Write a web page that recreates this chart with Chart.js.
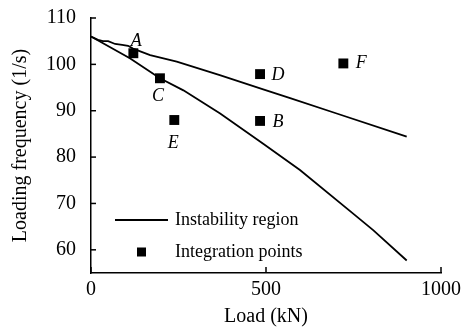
<!DOCTYPE html>
<html>
<head>
<meta charset="utf-8">
<script src="https://cdn.jsdelivr.net/npm/chart.js@4/dist/chart.umd.min.js"></script>
<style>
html, body { margin: 0; padding: 0; background: #fff; }
</style>
</head>
<body>
<canvas id="freqChart" width="461" height="329"></canvas>
<script>
// instability region, upper branch
const upperLoad = [0, 20, 34, 49, 69, 89, 106, 120, 169, 245, 368, 492, 569, 702, 902];
const upperFreq = [106, 105.3, 105.0, 105.0, 104.4, 104.2, 104.0, 103.4, 102.0, 100.6, 97.7, 94.6, 92.7, 89.4, 84.4];
// instability region, lower branch
const lowerLoad = [0, 111, 197, 264, 369, 492, 597, 749, 807, 902];
const lowerFreq = [106, 101.3, 97.0, 94.4, 89.4, 82.9, 77.2, 67.8, 64.2, 57.7];
// integration points
const pointNames = ['A', 'B', 'C', 'D', 'E', 'F'];
const pointLoad = [121, 483, 197, 483, 238, 721];
const pointFreq = [102.4, 87.8, 97.0, 97.9, 88.0, 100.2];

const serif = '"Liberation Serif", "Times New Roman", serif';

// where each letter sits relative to its square
const labelOffset = {
    A: [3, -12], B: [18, 1], C: [-2, 18], D: [18, 1], E: [-1, 23], F: [18, 0]
};

function toXY(xs, ys) {
    return xs.map((v, i) => ({x: v, y: ys[i]}));
}

const innerTicks = {
    id: 'innerTicks',
    afterDraw(chart) {
        const {ctx, chartArea, scales} = chart;
        ctx.save();
        ctx.strokeStyle = '#000';
        ctx.lineWidth = 1.5;
        scales.x.ticks.forEach(t => {
            const px = scales.x.getPixelForValue(t.value);
            ctx.beginPath();
            ctx.moveTo(px, chartArea.bottom);
            ctx.lineTo(px, chartArea.bottom - 6);
            ctx.stroke();
        });
        scales.y.ticks.forEach(t => {
            const py = scales.y.getPixelForValue(t.value);
            ctx.beginPath();
            ctx.moveTo(chartArea.left, py);
            ctx.lineTo(chartArea.left + 5, py);
            ctx.stroke();
        });
        ctx.restore();
    }
};

const pointLabels = {
    id: 'pointLabels',
    afterDatasetsDraw(chart) {
        const ctx = chart.ctx;
        const meta = chart.getDatasetMeta(2);
        ctx.save();
        ctx.fillStyle = '#000';
        ctx.font = 'italic 18px ' + serif;
        ctx.textAlign = 'center';
        ctx.textBaseline = 'middle';
        meta.data.forEach((el, i) => {
            const name = pointNames[i];
            const off = labelOffset[name];
            ctx.fillText(name, el.x + off[0], el.y + off[1]);
        });
        ctx.restore();
    }
};

const boxLegend = {
    id: 'boxLegend',
    afterDraw(chart) {
        const {ctx, chartArea} = chart;
        const x0 = chartArea.left + 24;
        const y1 = chartArea.bottom - 53;
        const y2 = chartArea.bottom - 21;
        ctx.save();
        ctx.strokeStyle = '#000';
        ctx.fillStyle = '#000';
        ctx.lineWidth = 1.8;
        ctx.beginPath();
        ctx.moveTo(x0, y1);
        ctx.lineTo(x0 + 53, y1);
        ctx.stroke();
        ctx.fillRect(x0 + 22, y2 - 4.5, 9, 9);
        ctx.font = '18px ' + serif;
        ctx.textBaseline = 'middle';
        ctx.fillText('Instability region', x0 + 60, y1);
        ctx.fillText('Integration points', x0 + 60, y2);
        ctx.restore();
    }
};

const CHART = document.getElementById('freqChart');
let freqChart = new Chart(CHART, {
    type: 'scatter',
    data: {
        datasets: [
            {
                label: 'Instability region',
                data: toXY(upperLoad, upperFreq),
                showLine: true,
                borderColor: '#000',
                borderWidth: 1.8,
                pointRadius: 0,
                tension: 0
            },
            {
                label: 'Instability region (lower)',
                data: toXY(lowerLoad, lowerFreq),
                showLine: true,
                borderColor: '#000',
                borderWidth: 1.8,
                pointRadius: 0,
                tension: 0
            },
            {
                label: 'Integration points',
                data: toXY(pointLoad, pointFreq),
                pointStyle: 'rect',
                pointRadius: 7,
                pointBorderWidth: 0,
                backgroundColor: '#000',
                borderColor: '#000'
            }
        ]
    },
    options: {
        responsive: false,
        animation: false,
        layout: {padding: {top: 18, right: 20, left: 0, bottom: 0}},
        plugins: {
            legend: {display: false},
            tooltip: {enabled: false}
        },
        scales: {
            x: {
                type: 'linear',
                min: 0,
                max: 1000,
                ticks: {
                    stepSize: 500, color: '#000', padding: 0, maxRotation: 0,
                    font: {family: serif, size: 20},
                    callback: v => String(v)
                },
                grid: {display: false, drawTicks: true, tickLength: 5},
                border: {display: true, color: '#000', width: 1.5},
                title: {display: true, text: 'Load (kN)', color: '#000', font: {family: serif, size: 20}, padding: {top: 0, bottom: 0}},
                afterFit: s => { s.height = 56; }
            },
            y: {
                min: 55,
                max: 110,
                ticks: {stepSize: 10, includeBounds: false, color: '#000', padding: 3, font: {family: serif, size: 20}},
                grid: {display: false, drawTicks: true, tickLength: 12},
                border: {display: true, color: '#000', width: 1.5},
                title: {display: true, text: 'Loading frequency (1/s)', color: '#000', font: {family: serif, size: 20}, padding: {top: 9, bottom: 0}},
                afterFit: s => { s.width = 91; }
            }
        }
    },
    plugins: [innerTicks, pointLabels, boxLegend]
});
</script>
</body>
</html>
